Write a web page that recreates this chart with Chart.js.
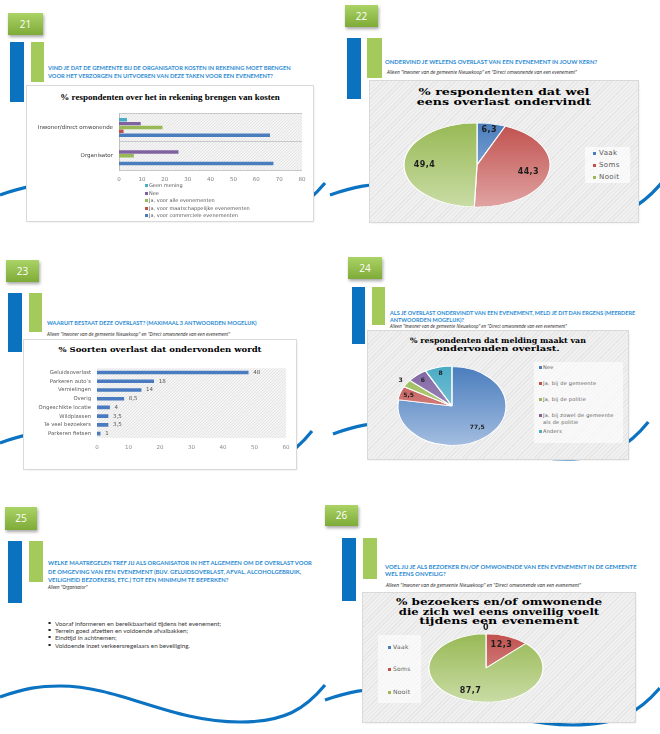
<!DOCTYPE html>
<html>
<head>
<meta charset="utf-8">
<script src="https://cdn.jsdelivr.net/npm/chart.js@4.4.0/dist/chart.umd.min.js"></script>
<style>
  html, body { margin: 0; padding: 0; background: #fff; }
  #page { position: relative; width: 660px; height: 734px; overflow: hidden; font-family: Lato, 'Open Sans', sans-serif; }
  #waves { position: absolute; left: 0; top: 0; }
  .num { position: absolute; height: 22px; background: linear-gradient(#abd366, #7eab38); box-shadow: 1px 2px 3px rgba(0,0,0,.35);
         color: #fff; font: 10px 'Open Sans', sans-serif; line-height: 22px; text-align: center; }
  .bb { position: absolute; width: 14px; background: #0a72bf; }
  .gb { position: absolute; width: 14px; background: #a5ca5c; }
  .q { position: absolute; white-space: nowrap; color: #2b8bd3; font-size: 5.8px; font-weight: bold; line-height: 8px; transform-origin: left center; }
  .sub { position: absolute; white-space: nowrap; color: #222; font: italic 4.4px 'Open Sans', sans-serif; line-height: 5px; transform-origin: left center; }
  .box { position: absolute; background: #fff; box-shadow: 0 0 0 1px #d9d9d9, 1px 1px 2px rgba(0,0,0,.12); }
  .hatch { background: repeating-linear-gradient(135deg, #e6e6e6 0px, #e6e6e6 1px, #f0f0f0 1px, #f0f0f0 3px); }
  .ct { position: absolute; left: 50%; white-space: nowrap; color: #000; font-family: 'DejaVu Serif', serif; font-weight: bold; transform-origin: center; }
  .box canvas { position: absolute; }
  .leg { position: absolute; font-family: 'DejaVu Sans', sans-serif; color: #595959; }
  .leg .it { position: relative; }
  .leg .mk { position: absolute; width: 3px; height: 3px; }
  .leg .tx { position: absolute; }
  .bul { position: absolute; white-space: nowrap; color: #3a3a3a; font-size: 5.8px; line-height: 7px; transform-origin: left center; }
  .bul::before { content: ''; position: absolute; left: -6px; top: 2.5px; width: 2px; height: 2px; background: #222; }
</style>
</head>
<body>
<div id="page">
<svg id="waves" width="660" height="734"></svg>

<!-- 21 -->
<div class="num" style="left:8px;top:13px;width:35px">21</div>
<div class="bb" style="left:10px;top:42px;height:60px"></div>
<div class="gb" style="left:31px;top:42px;width:13px;height:40px"></div>
<div class="q" style="left:48px;top:64px" data-w="243" data-g="q21">VIND JE DAT DE GEMEENTE BIJ DE ORGANISATOR KOSTEN IN REKENING MOET BRENGEN</div>
<div class="q" style="left:48px;top:72px" data-g="q21">VOOR HET VERZORGEN EN UITVOEREN VAN DEZE TAKEN VOOR EEN EVENEMENT?</div>
<div class="box" style="left:27px;top:86px;width:286px;height:135px">
  <div class="ct" style="top:6px;font-family:'Liberation Serif',serif;font-size:9px;line-height:10px" data-w="219">% respondenten over het in rekening brengen van kosten</div>
  <canvas id="c21" width="286" height="82" style="left:0;top:18px"></canvas>
  <div class="leg" id="leg21" style="left:117px;top:96px;width:160px;font-size:5px"></div>
</div>

<!-- 22 -->
<div class="num" style="left:345px;top:5px;width:33px">22</div>
<div class="bb" style="left:347px;top:38px;height:61px"></div>
<div class="gb" style="left:367px;top:38px;width:15px;height:40px"></div>
<div class="q" style="left:385px;top:58px" data-w="212">ONDERVIND JE WELEENS OVERLAST VAN EEN EVENEMENT IN JOUW KERN?</div>
<div class="sub" style="left:387px;top:69.5px" data-w="190">Alleen "Inwoner van de gemeente Nieuwkoop" en "Direct omwonende van een evenement"</div>
<div class="box hatch" style="left:370px;top:81px;width:268px;height:141px">
  <div class="ct" style="top:6px;font-size:10px;line-height:10px" data-w="171">% respondenten dat wel</div>
  <div class="ct" style="top:16px;font-size:10px;line-height:10px" data-w="174">eens overlast ondervindt</div>
  <canvas id="c22" width="156" height="94" style="left:29px;top:37px"></canvas>
  <div class="leg" id="leg22" style="left:215px;top:66px;width:45px;height:36px;background:rgba(255,255,255,.65);font-size:7px;letter-spacing:.4px"></div>
</div>

<!-- 23 -->
<div class="num" style="left:6px;top:260px;width:33px">23</div>
<div class="bb" style="left:8px;top:293px;height:59px"></div>
<div class="gb" style="left:29px;top:293px;width:13px;height:39px"></div>
<div class="q" style="left:47px;top:319px" data-w="210">WAARUIT BESTAAT DEZE OVERLAST? (MAXIMAAL 3 ANTWOORDEN MOGELIJK)</div>
<div class="sub" style="left:47px;top:331.5px" data-w="183">Alleen "Inwoner van de gemeente Nieuwkoop" en "Direct omwonende van een evenement"</div>
<div class="box" style="left:24px;top:340px;width:272px;height:129px">
  <div class="ct" style="top:4px;font-size:8px;line-height:10px" data-w="203">% Soorten overlast dat ondervonden wordt</div>
  <canvas id="c23" width="272" height="95" style="left:0;top:19px"></canvas>
</div>

<!-- 24 -->
<div class="num" style="left:348px;top:257px;width:34px">24</div>
<div class="bb" style="left:352px;top:287px;width:13px;height:57px"></div>
<div class="gb" style="left:372px;top:287px;width:13px;height:38px"></div>
<div class="q" style="left:390px;top:309px" data-w="245" data-g="q24">ALS JE OVERLAST ONDERVINDT VAN EEN EVENEMENT, MELD JE DIT DAN ERGENS (MEERDERE</div>
<div class="q" style="left:390px;top:316px" data-g="q24">ANTWOORDEN MOGELIJK)?</div>
<div class="sub" style="left:390px;top:323.5px" data-w="177">Alleen "Inwoner van de gemeente Nieuwkoop" en "Direct omwonende van een evenement"</div>
<div class="box hatch" style="left:368px;top:331px;width:260px;height:128px">
  <div class="ct" style="top:6px;font-size:7.5px;line-height:8px" data-w="176">% respondenten dat melding maakt van</div>
  <div class="ct" style="top:14px;font-size:7.5px;line-height:8px" data-w="123">ondervonden overlast.</div>
  <canvas id="c24" width="120" height="90" style="left:24px;top:30px"></canvas>
  <div class="leg" id="leg24" style="left:166px;top:31px;width:89px;height:81px;background:rgba(255,255,255,.6);font-size:5px;letter-spacing:.25px"></div>
</div>

<!-- 25 -->
<div class="num" style="left:5px;top:507px;width:32px;height:23px">25</div>
<div class="bb" style="left:8px;top:541px;height:62px"></div>
<div class="gb" style="left:29px;top:541px;width:14px;height:41px"></div>
<div class="q" style="left:48px;top:559px" data-w="264" data-g="q25">WELKE MAATREGELEN TREF JIJ ALS ORGANISATOR IN HET ALGEMEEN OM DE OVERLAST VOOR</div>
<div class="q" style="left:48px;top:568px" data-g="q25">DE OMGEVING VAN EEN EVENEMENT (BIJV. GELUIDSOVERLAST, AFVAL, ALCOHOLGEBRUIK,</div>
<div class="q" style="left:48px;top:576px" data-g="q25">VEILIGHEID BEZOEKERS, ETC.) TOT EEN MINIMUM TE BEPERKEN?</div>
<div class="sub" style="left:48px;top:584.5px" data-w="39">Alleen "Organisator"</div>
<div class="bul" style="left:55px;top:619.5px" data-w="166" data-g="b25">Vooraf informeren en bereikbaarheid tijdens het evenement;</div>
<div class="bul" style="left:55px;top:626.5px" data-g="b25">Terrein goed afzetten en voldoende afvalbakken;</div>
<div class="bul" style="left:55px;top:633.5px" data-g="b25">Eindtijd in achtnemen;</div>
<div class="bul" style="left:55px;top:641.5px" data-g="b25">Voldoende inzet verkeersregelaars en beveiliging.</div>

<!-- 26 -->
<div class="num" style="left:325px;top:505px;width:33px;height:21px;line-height:21px">26</div>
<div class="bb" style="left:342px;top:538px;height:63px"></div>
<div class="gb" style="left:363px;top:538px;width:14px;height:41px"></div>
<div class="q" style="left:385px;top:563px" data-w="252" data-g="q26">VOEL JIJ JE ALS BEZOEKER EN/OF OMWONENDE VAN EEN EVENEMENT IN DE GEMEENTE</div>
<div class="q" style="left:385px;top:570px" data-g="q26">WEL EENS ONVEILIG?</div>
<div class="sub" style="left:386px;top:582.5px" data-w="195">Alleen "Inwoner van de gemeente Nieuwkoop" en "Direct omwonende van een evenement"</div>
<div class="box hatch" style="left:363px;top:593px;width:272px;height:129px">
  <div class="ct" style="top:5px;font-size:9px;line-height:9.5px" data-w="206">% bezoekers en/of omwonende</div>
  <div class="ct" style="top:14.5px;font-size:9px;line-height:9.5px" data-w="200">die zich wel eens onveilig voelt</div>
  <div class="ct" style="top:24px;font-size:9px;line-height:9.5px" data-w="160">tijdens een evenement</div>
  <canvas id="c26" width="124" height="100" style="left:61px;top:25px"></canvas>
  <div class="leg" id="leg26" style="left:15px;top:42px;width:43px;height:68px;background:rgba(255,255,255,.6);font-size:6px;letter-spacing:.3px"></div>
</div>
</div>

<script>
// ---- data ----
const kostenCategories = ['Inwoner/direct omwonende', 'Organisator'];
const kostenSeries = ['Geen mening', 'Nee', 'Ja, voor alle evenementen', 'Ja, voor maatschappelijke evenementen', 'Ja, voor commerciele evenementen'];
const kostenGeenMening = [3.5, 0];
const kostenNee = [9.5, 26];
const kostenJaAlle = [19, 6.5];
const kostenJaMaatschappelijk = [2, 0];
const kostenJaCommercieel = [66, 67.5];
const kostenAxis = [0, 80, 10];

const overlastLabels = ['Vaak', 'Soms', 'Nooit'];
const overlastPct = [6.3, 44.3, 49.4];

const soortenLabels = ['Geluidsoverlast', 'Parkeren auto’s', 'Vernielingen', 'Overig', 'Ongeschikte locatie', 'Wildplassen', 'Te veel bezoekers', 'Parkeren fietsen'];
const soortenPct = [48, 18, 14, 8.5, 4, 3.5, 3.5, 1];
const soortenAxis = [0, 60, 10];

const meldingLabels = ['Nee', 'Ja, bij de gemeente', 'Ja, bij de politie', 'Ja, bij zowel de gemeente als de politie', 'Anders'];
const meldingPct = [77.5, 5.5, 3, 6, 8];

const onveiligLabels = ['Vaak', 'Soms', 'Nooit'];
const onveiligPct = [0, 12.3, 87.7];

// ---- colours (top, bottom of gradient) ----
const BLUE = ['#4a7dbd', '#a3bde0'];
const RED = ['#c0504d', '#e0a3a2'];
const GREEN = ['#98b955', '#c9dca5'];
const PURPLE = ['#7f63a1', '#b6a6cc'];
const CYAN = ['#4aabc5', '#9fd3e2'];

Chart.defaults.font.family = "'DejaVu Sans', sans-serif";
Chart.defaults.animation = false;
Chart.defaults.responsive = false;
Chart.defaults.events = [];
Chart.defaults.plugins.legend.display = false;
Chart.defaults.plugins.tooltip.enabled = false;

// fit texts to their measured width; lines of one block share the scale of their first line
const groupScale = {};
document.querySelectorAll('[data-w]').forEach(el => {
  const k = el.dataset.w / el.offsetWidth;
  if (el.dataset.g) groupScale[el.dataset.g] = k;
});
document.querySelectorAll('[data-w], [data-g]').forEach(el => {
  const k = el.dataset.g ? groupScale[el.dataset.g] : el.dataset.w / el.offsetWidth;
  el.style.transform = (el.classList.contains('ct') ? 'translateX(-50%) ' : '') + 'scaleX(' + k.toFixed(3) + ')';
});

// waves
(function () {
  const svg = document.getElementById('waves');
  const waves = [[0, 195, 1], [330, 195, 1.02], [0, 443, 0.96], [333, 434, 0.97], [0, 697, 1], [325, 700, 1.03]];
  waves.forEach(([x0, y0, sx]) => {
    const p = (x, y) => (x0 + x * sx).toFixed(1) + ',' + (y0 + y);
    const d = 'M' + p(0, 0) + ' C' + p(25, -9) + ' ' + p(40, -11) + ' ' + p(60, -11) +
      ' C' + p(120, -11) + ' ' + p(170, 25) + ' ' + p(240, 25) +
      ' C' + p(285, 25) + ' ' + p(305, 12) + ' ' + p(325, -12);
    const path = document.createElementNS('http://www.w3.org/2000/svg', 'path');
    path.setAttribute('d', d);
    path.setAttribute('fill', 'none');
    path.setAttribute('stroke', '#0b73c1');
    path.setAttribute('stroke-width', '3.2');
    svg.appendChild(path);
  });
})();

function hatchPattern(ctx) {
  const c = document.createElement('canvas');
  c.width = 3; c.height = 3;
  const g = c.getContext('2d');
  g.fillStyle = '#f4f4f4'; g.fillRect(0, 0, 3, 3);
  g.fillStyle = '#e4e4e4';
  g.fillRect(0, 2, 1, 1); g.fillRect(1, 1, 1, 1); g.fillRect(2, 0, 1, 1);
  return ctx.createPattern(c, 'repeat');
}

const plotHatch = {
  id: 'plotHatch',
  beforeDatasetsDraw(chart) {
    const { ctx, chartArea: a } = chart;
    ctx.save();
    ctx.globalCompositeOperation = 'destination-over';
    ctx.fillStyle = hatchPattern(ctx);
    ctx.fillRect(a.left, a.top, a.width, a.height);
    ctx.restore();
  }
};

const nl = v => String(v).replace('.', ',');

// ---- 21: grouped horizontal bars ----
new Chart(document.getElementById('c21'), {
  type: 'bar',
  data: {
    labels: kostenCategories,
    datasets: [
      { label: kostenSeries[0], data: kostenGeenMening, backgroundColor: CYAN[0] },
      { label: kostenSeries[1], data: kostenNee, backgroundColor: PURPLE[0] },
      { label: kostenSeries[2], data: kostenJaAlle, backgroundColor: GREEN[0] },
      { label: kostenSeries[3], data: kostenJaMaatschappelijk, backgroundColor: RED[0] },
      { label: kostenSeries[4], data: kostenJaCommercieel, backgroundColor: BLUE[0] }
    ]
  },
  options: {
    indexAxis: 'y',
    layout: { padding: { top: 4, right: 11 } },
    datasets: { bar: { categoryPercentage: 0.68, barPercentage: 0.9 } },
    scales: {
      x: {
        min: kostenAxis[0], max: kostenAxis[1],
        ticks: { stepSize: kostenAxis[2], color: '#808080', font: { size: 5.5 }, padding: 6 },
        grid: { display: false, drawTicks: false }, border: { display: false },
        afterFit: s => { s.height = 16; }
      },
      y: {
        ticks: { color: '#404040', font: { size: 5.5 }, padding: 6 },
        grid: { offset: true, color: '#c8c8c8', drawTicks: false },
        border: { color: '#bfbfbf' },
        afterFit: s => { s.width = 92; }
      }
    }
  },
  plugins: [plotHatch]
});

// ---- 23: horizontal bars with value labels ----
const barValues = {
  id: 'barValues',
  afterDatasetsDraw(chart) {
    const ctx = chart.ctx;
    const vals = chart.data.datasets[0].data;
    ctx.save();
    ctx.font = "5.5px 'DejaVu Sans'";
    ctx.fillStyle = '#595959';
    ctx.textBaseline = 'middle';
    chart.getDatasetMeta(0).data.forEach((bar, i) => ctx.fillText(nl(vals[i]), bar.x + 5, bar.y));
    ctx.restore();
  }
};

new Chart(document.getElementById('c23'), {
  type: 'bar',
  data: { labels: soortenLabels, datasets: [{ data: soortenPct, backgroundColor: '#4a7bc0', barThickness: 3 }] },
  options: {
    indexAxis: 'y',
    layout: { padding: { top: 4, right: 10 } },
    scales: {
      x: {
        min: soortenAxis[0], max: soortenAxis[1],
        ticks: { stepSize: soortenAxis[2], color: '#8a8a8a', font: { size: 5.5 }, padding: 6 },
        grid: { display: false, drawTicks: false }, border: { display: false },
        afterFit: s => { s.height = 16; }
      },
      y: {
        ticks: { color: '#595959', font: { size: 5.3 }, padding: 6, autoSkip: false },
        grid: { display: false, drawTicks: false }, border: { display: false },
        afterFit: s => { s.width = 73; }
      }
    }
  },
  plugins: [plotHatch, barValues]
});

// ---- pies drawn as ellipses ----
const labelRadius = v => v === 0 ? 1.17 : v < 5 ? 1.15 : v < 10 ? 0.85 : 0.72;

const ellipsePie = {
  id: 'ellipse',
  beforeDatasetsDraw(chart, args, opts) {
    const a = chart.chartArea, ctx = chart.ctx;
    const cx = (a.left + a.right) / 2, cy = (a.top + a.bottom) / 2;
    ctx.save();
    ctx.translate(cx, cy);
    ctx.scale(1, opts.ratio);
    ctx.translate(-cx, -cy);
  },
  afterDatasetsDraw(chart, args, opts) {
    const ctx = chart.ctx;
    ctx.restore();
    const vals = chart.data.datasets[0].data;
    ctx.save();
    ctx.font = opts.font;
    ctx.letterSpacing = opts.spacing || '0px';
    ctx.fillStyle = '#1e1e1e';
    ctx.textAlign = 'center';
    ctx.textBaseline = 'middle';
    chart.getDatasetMeta(0).data.forEach((arc, i) => {
      const mid = (arc.startAngle + arc.endAngle) / 2;
      const f = labelRadius(vals[i]);
      const x = arc.x + Math.cos(mid) * arc.outerRadius * f;
      const y = arc.y + Math.sin(mid) * arc.outerRadius * f * opts.ratio;
      ctx.fillText(nl(vals[i]), x, y);
    });
    ctx.restore();
  }
};

function pieFill(c, pair) {
  const chart = c.chart, a = chart.chartArea;
  if (!a) return pair[0];
  const cy = (a.top + a.bottom) / 2, r = c.dataset.radius;
  const g = chart.ctx.createLinearGradient(0, cy - r, 0, cy + r);
  g.addColorStop(0, pair[0]);
  g.addColorStop(1, pair[1]);
  return g;
}

function makePie(id, labels, values, colors, o) {
  return new Chart(document.getElementById(id), {
    type: 'pie',
    data: {
      labels: labels,
      datasets: [{
        data: values,
        radius: o.r,
        clip: false,
        backgroundColor: c => pieFill(c, colors[c.dataIndex]),
        borderColor: '#ffffff',
        borderWidth: 1.2,
        offset: c => (o.explode && values[c.dataIndex] < 10 ? 2 : 0)
      }]
    },
    options: { plugins: { ellipse: { ratio: o.ratio, font: o.font, spacing: o.spacing } } },
    plugins: [ellipsePie]
  });
}

function buildLegend(id, labels, colors, o) {
  const el = document.getElementById(id);
  labels.forEach((t, i) => {
    const it = document.createElement('div');
    it.className = 'it';
    it.style.height = o.step + 'px';
    if (i === 0) it.style.marginTop = o.first + 'px';
    const mk = document.createElement('div');
    mk.className = 'mk';
    mk.style.background = colors[i][0];
    mk.style.left = o.mx + 'px';
    mk.style.top = (o.lh / 2 - 1.5) + 'px';
    const tx = document.createElement('div');
    tx.className = 'tx';
    tx.style.left = o.tx + 'px';
    tx.style.lineHeight = o.lh + 'px';
    tx.style.width = o.tw + 'px';
    tx.textContent = t;
    it.appendChild(mk);
    it.appendChild(tx);
    el.appendChild(it);
  });
}

makePie('c22', overlastLabels, overlastPct, [BLUE, RED, GREEN], { r: 73, ratio: 0.575, font: "bold 8px 'DejaVu Sans'", spacing: '0.4px' });
makePie('c24', meldingLabels, meldingPct, [BLUE, RED, GREEN, PURPLE, CYAN], { r: 54, ratio: 0.73, font: "bold 6px 'DejaVu Sans'", explode: true });
makePie('c26', onveiligLabels, onveiligPct, [BLUE, RED, GREEN], { r: 57, ratio: 0.6, font: "bold 8px 'DejaVu Sans'", spacing: '0.5px' });

buildLegend('leg21', kostenSeries, [CYAN, PURPLE, GREEN, RED, BLUE], { step: 7.5, first: 0, lh: 7.5, mx: 1, tx: 5, tw: 150 });
buildLegend('leg22', overlastLabels, [BLUE, RED, GREEN], { step: 12, first: 0, lh: 12, mx: 8, tx: 14, tw: 30 });
buildLegend('leg24', meldingLabels, [BLUE, RED, GREEN, PURPLE, CYAN], { step: 16, first: 1.5, lh: 7, mx: 5, tx: 9, tw: 80 });
buildLegend('leg26', onveiligLabels, [BLUE, RED, GREEN], { step: 22.5, first: 0.75, lh: 22.5, mx: 10, tx: 15, tw: 28 });
</script>
</body>
</html>
